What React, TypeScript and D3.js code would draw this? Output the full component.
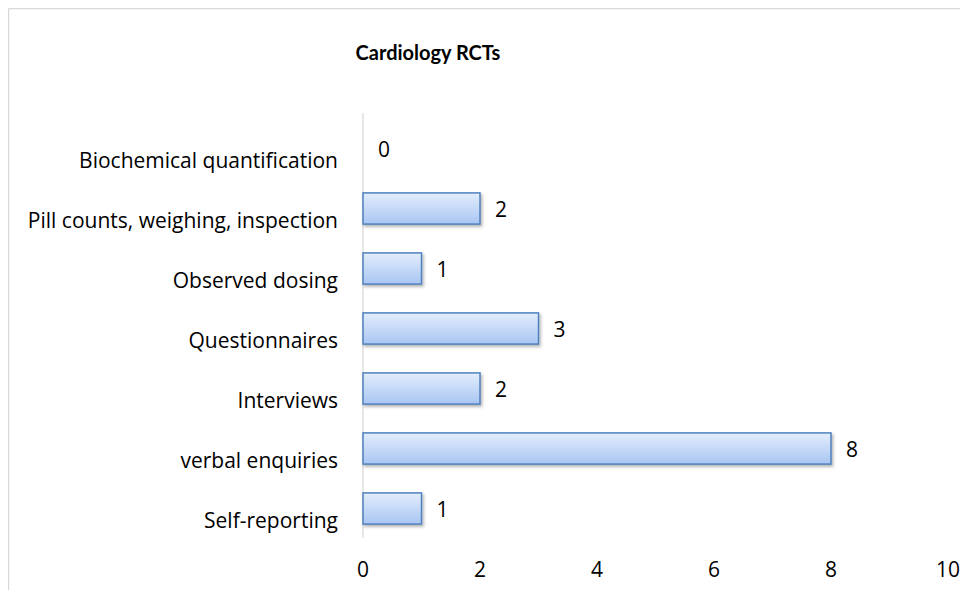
import React from "react";
import * as d3 from "d3";

const categories = [
  "Self-reporting",
  "verbal enquiries",
  "Interviews",
  "Questionnaires",
  "Observed dosing",
  "Pill counts, weighing, inspection",
  "Biochemical quantification",
];
const values = [1, 8, 2, 3, 1, 2, 0];
const xTicks = [0, 2, 4, 6, 8, 10];
const title = "Cardiology RCTs";

const W = 960;
const H = 582;
const OFF = 8;
const FONT = "'Open Sans', Lato, sans-serif";
const FS = 21;

export default function App() {
  const x = d3.scaleLinear().domain([0, 10]).range([363 - OFF, 948 - OFF]);
  const y = d3
    .scaleBand<string>()
    .domain([...categories].reverse())
    .range([118.5 - OFF, 538.5 - OFF])
    .paddingInner(0.48)
    .paddingOuter(0.24);
  const bw = y.bandwidth();

  return (
    <svg width={W} height={H} style={{ display: "block" }} fontFamily={FONT}>
      <defs>
        <linearGradient id="barGrad" x1="0" y1="0" x2="0" y2="1">
          <stop offset="0%" stopColor="#e3edfc" />
          <stop offset="100%" stopColor="#a8c6f3" />
        </linearGradient>
        <filter id="shadow" x="-10%" y="-20%" width="130%" height="160%">
          <feDropShadow dx="1.5" dy="2" stdDeviation="1.5" floodColor="#000" floodOpacity="0.3" />
        </filter>
      </defs>
      <rect x={0} y={0} width={W} height={H} fill="#fff" />
      <line x1={0.5} y1={0.5} x2={W} y2={0.5} stroke="#d9d9d9" strokeWidth={1.5} />
      <line x1={0.5} y1={0.5} x2={0.5} y2={H} stroke="#d9d9d9" strokeWidth={1.5} />

      <text x={428 - OFF} y={60 - OFF} textAnchor="middle" fontWeight="bold" fontSize={20} fill="#000" fontFamily="Lato, sans-serif">
        {title}
      </text>

      <line x1={x(0)} x2={x(0)} y1={113 - OFF} y2={538 - OFF} stroke="#d0d0d0" strokeWidth={1} />

      {categories.map((c, i) => {
        const v = values[i];
        const yy = y(c)!;
        return (
          <g key={c}>
            <text x={x(0) - 25} y={yy + bw / 2 + 19.5} textAnchor="end" fontSize={FS} fill="#000">
              {c}
            </text>
            {v > 0 && (
              <rect
                x={x(0)}
                y={yy}
                width={x(v) - x(0)}
                height={bw}
                fill="url(#barGrad)"
                stroke="#4f81bd"
                strokeWidth={1.5}
                filter="url(#shadow)"
              />
            )}
            <text x={x(v) + 21} y={yy + bw / 2 + 8} textAnchor="middle" fontSize={FS} fill="#000">
              {v}
            </text>
          </g>
        );
      })}

      {xTicks.map((t) => (
        <text key={t} x={x(t)} y={577 - OFF} textAnchor="middle" fontSize={FS} fill="#000">
          {t}
        </text>
      ))}
    </svg>
  );
}
